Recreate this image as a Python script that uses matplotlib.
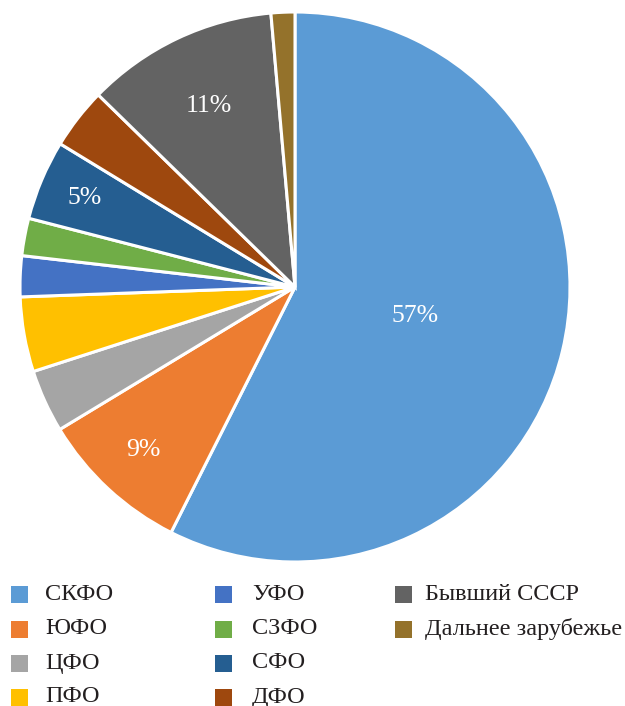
import numpy as np
import matplotlib.pyplot as plt
from matplotlib.patches import Rectangle

# доли регионов, %
regions = ['СКФО', 'ЮФО', 'ЦФО', 'ПФО', 'УФО', 'СЗФО', 'СФО', 'ДФО',
           'Бывший СССР', 'Дальнее зарубежье']
shares = [57.5, 8.9, 3.7, 4.4, 2.4, 2.2, 4.7, 3.6, 11.3, 1.4]
colors = ['#5B9BD5', '#ED7D31', '#A5A5A5', '#FFC000', '#4472C4', '#70AD47',
          '#255E91', '#9E480E', '#636363', '#94722B']
# подписи только для крупных секторов
shown_labels = {'СКФО': '57%', 'ЮФО': '9%', 'СФО': '5%', 'Бывший СССР': '11%'}
label_radius = {'СКФО': 0.45, 'ЮФО': 0.81, 'СФО': 0.83, 'Бывший СССР': 0.73}

plt.rcParams['font.family'] = ['Liberation Serif', 'DejaVu Serif']

W, H = 625, 706
fig = plt.figure(figsize=(W / 100, H / 100), dpi=100)

cx, cy, r = 295, 287, 275
ax = fig.add_axes([(cx - r) / W, (H - cy - r) / H, 2 * r / W, 2 * r / H])
wedges, _ = ax.pie(shares, colors=colors, startangle=90, counterclock=False,
                   radius=1.0, wedgeprops=dict(edgecolor='white', linewidth=2.2))
ax.set_xlim(-1, 1)
ax.set_ylim(-1, 1)
ax.set_aspect('equal')
ax.axis('off')

for w, name in zip(wedges, regions):
    if name in shown_labels:
        ang = np.deg2rad((w.theta1 + w.theta2) / 2)
        rr = label_radius[name]
        ax.text(rr * np.cos(ang), rr * np.sin(ang), shown_labels[name],
                color='white', fontsize=18.5, ha='center', va='center')

# легенда вручную: 3 колонки (4, 4, 2)
cols = [(11, 45), (215, 252), (395, 425)]
rows = [594, 629, 663, 697]
sq = 17
for i, (name, c) in enumerate(zip(regions, colors)):
    col = 0 if i < 4 else (1 if i < 8 else 2)
    row = i if i < 4 else (i - 4 if i < 8 else i - 8)
    sx, tx = cols[col]
    y = rows[row]
    fig.add_artist(Rectangle((sx / W, (H - y - sq / 2) / H), sq / W, sq / H,
                             transform=fig.transFigure, color=c, lw=0))
    fig.text(tx / W, (H - y) / H, name, fontsize=17.5, color='#231F20',
             ha='left', va='center')

fig.savefig('out.png', dpi=100)
